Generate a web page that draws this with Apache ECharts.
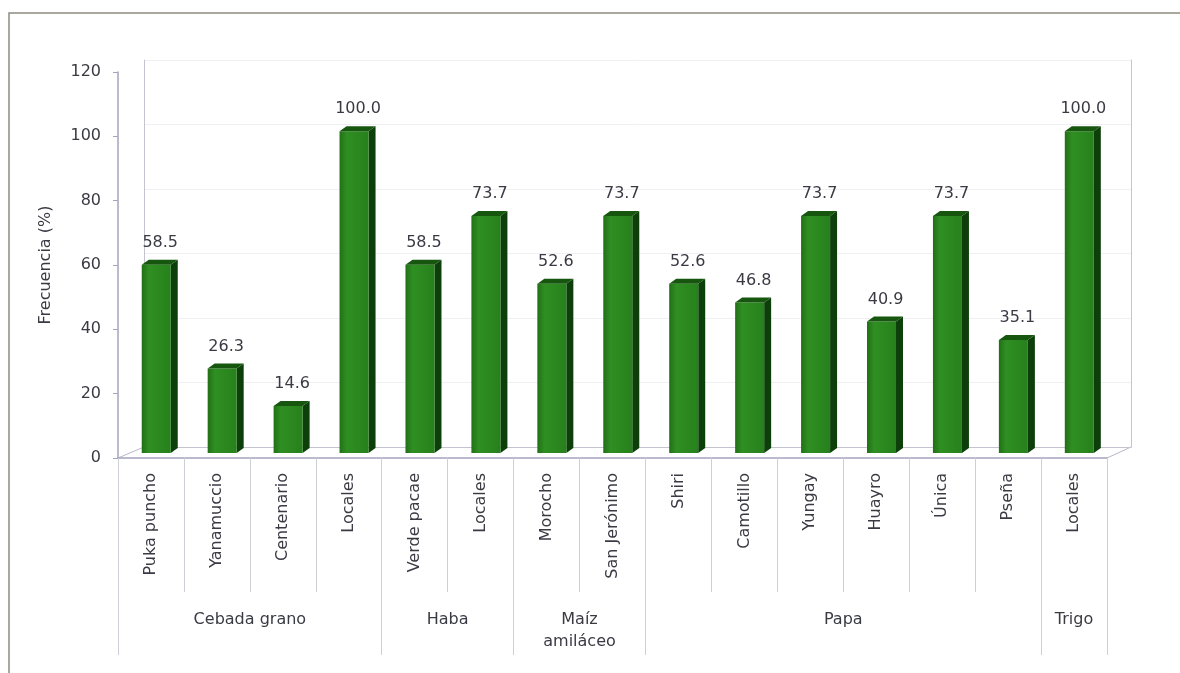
<!DOCTYPE html>
<html>
<head>
<meta charset="utf-8">
<script src="https://cdn.jsdelivr.net/npm/echarts@6/dist/echarts.min.js"></script>
<style>html,body{margin:0;padding:0;background:#fff;}#c{width:1180px;height:673px;}</style>
</head>
<body>
<div id="c"></div>
<script>
var categories = ['Puka puncho','Yanamuccio','Centenario','Locales','Verde pacae','Locales','Morocho','San Jerónimo','Shiri','Camotillo','Yungay','Huayro','Única','Pseña','Locales'];
var values = [58.5,26.3,14.6,100.0,58.5,73.7,52.6,73.7,52.6,46.8,73.7,40.9,73.7,35.1,100.0];
var groupNames = ['Cebada grano','Haba','Maíz\namiláceo','Papa','Trigo'];
var groupCounts = [4,2,2,6,1];
var yTicks = [0,20,40,60,80,100,120];

// Build group axis (2 points per category, boundaryGap false)
var nPts = categories.length * 2 + 1;
var groupAxisData = [];
for (var k = 0; k < nPts; k++) groupAxisData.push('');
var boundaryIdx = {};
var start = 0;
boundaryIdx[0] = true;
for (var g = 0; g < groupNames.length; g++) {
  groupAxisData[2 * start + groupCounts[g]] = groupNames[g];
  start += groupCounts[g];
  boundaryIdx[2 * start] = true;
}

var FONT = 'DejaVu Sans';
var TXT = '#3a3a44';
var chart = echarts.init(document.getElementById('c'));
chart.setOption({
  animation: false,
  backgroundColor: '#fff',
  graphic: [
    {type:'rect', shape:{x:9,y:13,width:1200,height:700}, style:{fill:'none', stroke:'#8e8a80', lineWidth:1.5}, z:0},
    {type:'line', shape:{x1:118,y1:458,x2:144,y2:447}, style:{stroke:'#b8b8c8', lineWidth:1}},
    {type:'line', shape:{x1:1107,y1:458,x2:1131,y2:447}, style:{stroke:'#b8b8c8', lineWidth:1}}
  ],
  grid: [
    {left:118, right:73, top:72, bottom:215, containLabel:false},
    {left:144, right:49, top:60, bottom:226, containLabel:false}
  ],
  xAxis: [
    {
      gridIndex:0, type:'category', data:categories, position:'bottom',
      axisLine:{show:true, lineStyle:{color:'#a4a4bc', width:1.5}},
      axisTick:{show:true, interval:0, length:134, lineStyle:{color:'#cfcfd8'}},
      axisLabel:{interval:0, rotate:90, margin:15, fontFamily:FONT, fontSize:16, color:TXT},
      splitLine:{show:false}
    },
    {
      gridIndex:0, type:'category', data:groupAxisData, position:'bottom', boundaryGap:false,
      axisLine:{show:false},
      axisTick:{show:true, length:197, interval:function(i){return !!boundaryIdx[i];}, lineStyle:{color:'#cfcfd8'}},
      axisLabel:{interval:function(i,v){return v!=='';}, margin:151, fontFamily:FONT, fontSize:16, color:TXT, lineHeight:22, align:'center'},
      splitLine:{show:false}
    },
    {
      gridIndex:1, type:'value', min:0, max:1, show:true,
      axisLine:{show:true, lineStyle:{color:'#c4c4d0'}},
      axisTick:{show:false}, axisLabel:{show:false}, splitLine:{show:false}
    }
  ],
  yAxis: [
    {
      gridIndex:0, type:'value', min:0, max:120, interval:20,
      name:'Frecuencia (%)', nameLocation:'middle', nameGap:64, nameRotate:90,
      nameTextStyle:{fontFamily:FONT, fontSize:16, color:TXT},
      axisLine:{show:true, lineStyle:{color:'#a4a4bc', width:1.5}},
      axisTick:{show:true, length:5, lineStyle:{color:'#a4a4bc'}},
      axisLabel:{margin:17, fontFamily:FONT, fontSize:16, color:TXT,
        formatter:function(v){return yTicks.indexOf(v)>=0 ? String(v) : '';}},
      splitLine:{show:false}
    },
    {
      gridIndex:1, type:'value', min:0, max:120, interval:20, position:'left',
      axisLine:{show:true, lineStyle:{color:'#c4c4d0'}},
      axisTick:{show:false}, axisLabel:{show:false},
      splitLine:{show:true, lineStyle:{color:'#f0f0f4'}}
    },
    {
      gridIndex:1, type:'value', min:0, max:120, interval:20, position:'right',
      axisLine:{show:true, lineStyle:{color:'#c4c4d0'}},
      axisTick:{show:false}, axisLabel:{show:false}, splitLine:{show:false}
    }
  ],
  series: [{
    type:'custom',
    xAxisIndex:0, yAxisIndex:0,
    data: values.map(function(v,i){return [i,v];}),
    z:10,
    renderItem:function(params, api){
      var i = api.value(0), v = api.value(1);
      var top = api.coord([i, v]);
      var base = api.coord([i, 0]);
      var cw = api.size([1,0])[0];
      var fw = cw * 0.44;
      var dx = 7, dy = 5;
      var x0 = top[0] - cw * 0.14;
      var ft = top[1] - 5, fb = base[1] - 5;
      return {
        type:'group',
        children:[
          {type:'polygon', shape:{points:[[x0+fw,ft],[x0+fw+dx,ft-dy],[x0+fw+dx,fb-dy],[x0+fw,fb]]},
            style:{fill:'#0c3f09'}},
          {type:'rect', shape:{x:x0, y:ft, width:fw, height:fb-ft},
            style:{fill:new echarts.graphic.LinearGradient(0,0,1,0,[
              {offset:0,color:'#226f17'},{offset:0.25,color:'#2f8f22'},{offset:1,color:'#27801c'}])}},
          {type:'polygon', shape:{points:[[x0,ft],[x0+dx,ft-dy],[x0+fw+dx,ft-dy],[x0+fw,ft]]},
            style:{fill:'#17560f'}},
          {type:'text', style:{text:v.toFixed(1), x:x0+fw/2+4, y:ft-22, align:'center', verticalAlign:'middle',
            font:'16px "DejaVu Sans"', fill:TXT}}
        ]
      };
    }
  }]
});
</script>
</body>
</html>
